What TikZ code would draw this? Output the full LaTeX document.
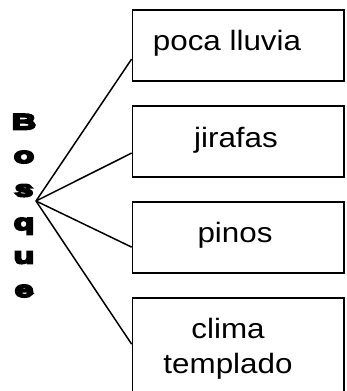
\documentclass[tikz,border=0pt]{standalone}
\usepackage{fontspec}
\newfontfamily\boxfont[FakeStretch=1.12]{Liberation Sans}
\newfontfamily\heavyfont[FakeBold=9,FakeStretch=1.55]{Liberation Sans}
\usetikzlibrary{positioning}
\tikzset{
x=1pt, y=1pt,
   box/.style = {%
    shape=rectangle,
    draw=black,
    line width=1.8pt,
    minimum width=211.5pt,
    minimum height=71pt,
    inner sep=0pt},
   boxtext/.style = {%
    anchor=base,
    align=center,
    inner sep=0pt,
    font=\boxfont\fontsize{28}{35}\selectfont},
   word/.style = {%
    anchor=north,
    align=center,
    inner sep=0pt,
    font=\heavyfont\bfseries\fontsize{22}{33.5}\selectfont},
   link/.style = {%
    draw=black,
    line width=1.5pt},
    }

\begin{document}
\begin{tikzpicture}
            \clip (0,0) rectangle (346,-391);
            \node[box] (b1) at (238.25,-45.5) {};
            \node[box] (b2) at (238.25,-141.5) {};
            \node[box] (b3) at (238.25,-237.5) {};
            \node[box, minimum height=110pt] (b4) at (238.25,-353) {};
            \node[boxtext] (t1) at (227,-50) {poca lluvia};
            \node[boxtext] (t2) at (236,-147) {jirafas};
            \node[boxtext] (t3) at (235,-242) {pinos};
            \node[boxtext] (t4) at (228,-373) {clima\\templado};
            \node[word] (bosque) at (24,-114) {B\\o\\s\\q\\u\\e};
            \coordinate (apex) at (36,-201);
            % lines from the word to the boxes
            \draw[link] (apex) -- ([yshift=-50pt]b1.north west);
            \draw[link] (apex) -- ([yshift=-48pt]b2.north west);
            \draw[link] (apex) -- ([yshift=-46pt]b3.north west);
            \draw[link] (apex) -- ([yshift=-47pt]b4.north west);
        \end{tikzpicture}
\end{document}
